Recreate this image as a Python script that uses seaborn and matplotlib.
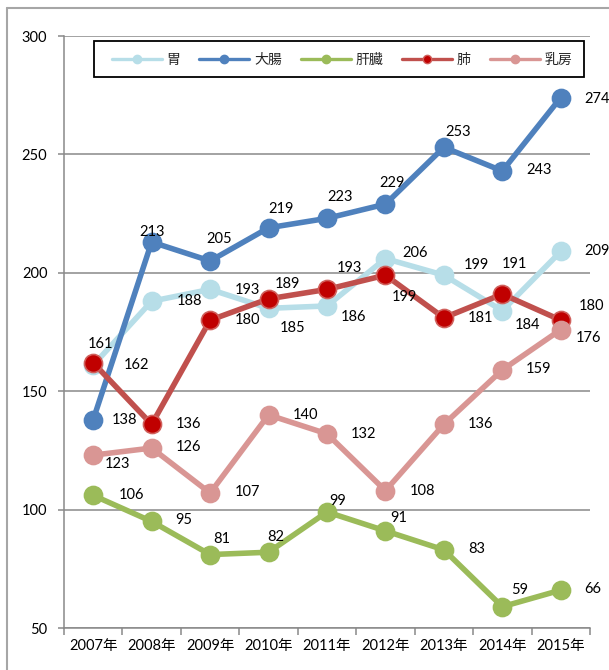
import numpy as np
import pandas as pd
import matplotlib
matplotlib.use("Agg")
import matplotlib.pyplot as plt
import seaborn as sns
from matplotlib.lines import Line2D
from matplotlib.patches import Rectangle
from matplotlib.ticker import FixedLocator

# ---------------- data ----------------
years = ["2007年", "2008年", "2009年", "2010年", "2011年",
         "2012年", "2013年", "2014年", "2015年"]
series_names = ["胃", "大腸", "肝臓", "肺", "乳房"]
stomach = [161, 188, 193, 185, 186, 206, 199, 184, 209]
colon = [138, 213, 205, 219, 223, 229, 253, 243, 274]
liver = [106, 95, 81, 82, 99, 91, 83, 59, 66]
lung = [162, 136, 180, 189, 193, 199, 181, 191, 180]
breast = [123, 126, 107, 140, 132, 108, 136, 159, 176]
yticks = [50, 100, 150, 200, 250, 300]

series_values = [stomach, colon, liver, lung, breast]

# ---------------- styles ----------------
line_colors = ["#B7DEE8", "#4F81BD", "#9BBB59", "#C0504D", "#D99694"]
marker_faces = ["#B7DEE8", "#4F81BD", "#9BBB59", "#C00000", "#D99694"]
marker_edges = ["#B7DEE8", "#4F81BD", "#9BBB59", "#D0605C", "#D99694"]

# label offsets (pixels, x right / y down) relative to each point
label_offsets = {
    "胃": [(7, -21), (38, 0), (37, 1), (24, 20), (27, 11), (30, -6), (32, -10), (25, 14), (36, 0)],
    "大腸": [(31, 0), (0, -10), (9, -22), (12, -19), (13, -21), (7, -21), (14, -15), (37, -1), (36, 1)],
    "肝臓": [(38, 0), (32, -1), (12, -16), (7, -15), (11, -11), (13, -13), (33, -1), (17, -17), (32, -1)],
    "肺": [(43, 2), (37, 0), (37, 0), (19, -15), (22, -21), (19, 22), (37, 0), (12, -30), (31, -14)],
    "乳房": [(24, 9), (37, -1), (37, -1), (37, 0), (37, 0), (37, 0), (37, 0), (36, -1), (28, 8)],
}

sns.set_theme(style="white")
plt.rcParams["font.family"] = ["Lato", "Noto Sans CJK JP", "DejaVu Sans"]

W, H = 609, 670
fig = plt.figure(figsize=(W / 100, H / 100), dpi=100)
ax = fig.add_axes([64 / W, 1 - 628 / H, 526 / W, 592 / H])

grid_gray = "#898989"

for k, (name, vals) in enumerate(zip(series_names, series_values)):
    df = pd.DataFrame({"year": years, "value": vals})
    sns.lineplot(data=df, x="year", y="value", ax=ax, sort=False,
                 color=line_colors[k], linewidth=4.0,
                 marker="o", markersize=13,
                 markerfacecolor=marker_faces[k],
                 markeredgecolor=marker_edges[k],
                 markeredgewidth=1.2, zorder=3 + k)

for k, (name, vals) in enumerate(zip(series_names, series_values)):
    for i, v in enumerate(vals):
        dx, dy = label_offsets[name][i]
        ax.annotate(str(v), xy=(years[i], v), xytext=(dx, -dy),
                    textcoords="offset pixels", ha="center", va="center",
                    fontsize=10.5, color="black", zorder=20,
                    annotation_clip=False)

ax.set_xlim(-0.5, len(years) - 0.5)
ax.set_ylim(50, 300)
ax.set_yticks(yticks)
ax.set_xlabel("")
ax.set_ylabel("")

ax.yaxis.grid(True, color=grid_gray, linewidth=1.1)
ax.xaxis.grid(False)
ax.set_axisbelow(True)

for s in ["top", "right"]:
    ax.spines[s].set_visible(False)
for s in ["left", "bottom"]:
    ax.spines[s].set_color(grid_gray)
    ax.spines[s].set_linewidth(1.1)

ax.xaxis.set_minor_locator(FixedLocator(np.arange(-0.5, len(years), 1.0)))
ax.tick_params(axis="x", which="major", length=0, pad=8, labelsize=10.5, labelcolor="black")
ax.tick_params(axis="x", which="minor", length=5, width=1.1, color=grid_gray, bottom=True)
ax.tick_params(axis="y", which="major", length=4, width=1.1, color=grid_gray,
               pad=8, labelsize=10.5, labelcolor="black", left=True)

# legend
handles = [Line2D([], [], color=line_colors[k], linewidth=2.4, marker="o",
                  markersize=6, markerfacecolor=marker_faces[k],
                  markeredgecolor=marker_edges[k])
           for k in range(len(series_names))]
fig.legend(handles, series_names, loc="center", bbox_to_anchor=(342 / W, 1 - 59 / H),
           ncol=5, frameon=False, fontsize=10, handlelength=3.6,
           handletextpad=0.35, columnspacing=1.35, borderpad=0)
fig.add_artist(Rectangle((94 / W, 1 - 77 / H), 490 / W, 36 / H, transform=fig.transFigure,
                         fill=False, edgecolor="black", linewidth=1.3))

# outer chart border (left and top visible)
border = "#A6A6A6"
fig.add_artist(Line2D([6.5 / W, 6.5 / W], [0, 1 - 8 / H], transform=fig.transFigure,
                      color=border, linewidth=1.5))
fig.add_artist(Line2D([6.5 / W, 1], [1 - 8 / H, 1 - 8 / H], transform=fig.transFigure,
                      color=border, linewidth=1.5))

fig.savefig("out.png", dpi=100)
